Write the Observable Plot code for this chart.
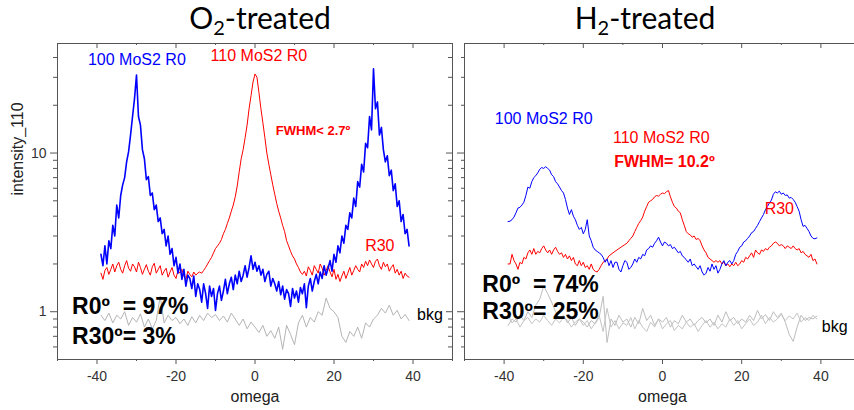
<!DOCTYPE html>
<html><head><meta charset="utf-8">
<script src="https://cdn.jsdelivr.net/npm/d3@7"></script>
<script src="https://cdn.jsdelivr.net/npm/@observablehq/plot@0.6"></script>
<style>
body{margin:0;background:#fff;overflow:hidden}
#wrap{position:relative;width:854px;height:410px;overflow:hidden;background:#fff}
.panel{position:absolute;top:0}
.title{position:absolute;top:0;font-family:Lato,"Open Sans",sans-serif;font-size:30px;line-height:34px;color:#000;transform:translateX(-50%);white-space:nowrap}
.title sub{font-size:20px;line-height:0;vertical-align:-6px}
</style></head><body>
<div id="wrap">
  <div id="p1" class="panel" style="left:0;width:460px"></div>
  <div id="p2" class="panel" style="left:452px;width:410px"></div>
  <div class="title" style="left:260px">O<sub>2</sub>-treated</div>
  <div class="title" style="left:645px">H<sub>2</sub>-treated</div>
</div>
<script>
// ---- sampling grids (omega, degrees)
const omegaFine = d3.range(-39, 39.01, 0.5);   // 157 samples
const omegaCoarse = d3.range(-39, 39.01, 1);   // 79 samples

// ---- O2-treated
const o2Blue = [
 2.3,1.95,2.6,2.0,2.8,2.5,3.5,3.0,4.7,3.9,
 5.4,6.3,7.0,8.8,10.2,13,17,22,31,17,
 15,10.5,9.2,6.8,7.1,5.4,5.6,4.4,4.7,3.7,
 3.9,3.1,3.3,2.6,3.0,2.3,2.5,1.95,2.2,1.75,
 2.0,1.6,1.85,1.45,1.7,1.62,1.4,1.68,1.25,1.5,
 1.38,1.15,1.5,1.3,1.05,1.45,1.25,1.4,1.02,1.3,
 1.45,1.18,1.35,1.6,1.3,1.5,1.65,1.38,1.7,1.5,
 1.8,1.55,1.7,1.95,1.65,1.9,2.25,1.85,2.05,1.8,
 1.95,1.7,1.85,1.55,1.72,1.8,1.45,1.62,1.5,1.35,
 1.55,1.28,1.45,1.2,1.38,1.3,1.08,1.4,1.22,1.35,
 1.15,1.42,1.3,1.5,1.06,1.45,1.62,1.35,1.55,1.72,
 1.5,1.78,1.62,1.95,1.7,1.88,2.1,1.8,2.3,2.05,
 2.6,2.35,3.0,2.7,3.5,3.3,4.2,3.9,5.2,4.6,
 6.6,6.1,8.5,7.6,11.5,10.8,17,14,34,19,
 21,13,14.5,10.5,8.8,9.6,7.2,7.8,5.8,6.4,
 4.6,5.0,3.7,4.1,3.1,3.3,2.6
];
const o2Red = [
 1.75,1.6,1.82,1.9,1.72,1.85,2.0,1.78,1.95,2.05,
 1.85,1.75,1.95,2.1,1.88,1.8,2.0,1.92,1.78,2.05,
 1.9,1.72,1.85,1.98,1.8,1.7,1.92,2.02,1.75,1.85,
 1.95,1.7,1.8,1.88,1.65,1.78,1.9,1.7,1.62,1.82,
 1.75,1.85,1.68,1.6,1.8,1.72,1.66,1.78,1.7,1.75,
 1.78,1.75,1.82,1.9,2.0,2.1,2.2,2.35,2.5,2.6,
 2.7,2.85,3.1,3.3,3.6,3.9,4.3,4.7,5.3,6.2,
 7.6,9.2,10.5,12.5,15,19,23,28,31.5,30,
 24,19,15.5,12.5,10,8.5,7.3,6.3,5.5,4.8,
 4.3,3.9,3.5,3.2,2.8,2.6,2.4,2.25,2.15,2.0,
 1.9,1.78,1.72,1.8,1.68,1.92,1.82,1.7,1.95,1.85,
 1.75,2.0,1.88,1.7,1.82,1.95,1.78,1.66,1.85,1.6,
 1.72,1.55,1.68,1.8,1.62,1.75,1.9,1.7,1.82,1.95,
 1.85,1.78,2.0,1.9,2.08,1.95,2.12,2.0,1.9,2.08,
 2.15,1.95,1.85,2.05,1.92,2.0,1.8,1.9,1.98,1.75,
 1.85,1.7,1.8,1.62,1.75,1.68,1.65
];
const o2Bkg = [
 0.95,0.88,0.98,0.85,0.95,0.9,1.0,0.82,0.92,0.86,
 0.97,0.8,0.9,0.78,0.88,1.25,0.85,0.95,0.88,0.92,
 0.84,0.9,0.82,0.93,0.85,0.95,0.88,0.98,0.92,0.96,
 0.88,0.94,0.86,0.98,0.9,0.82,0.9,0.78,0.86,0.8,
 0.74,0.82,0.7,0.76,0.68,0.8,0.58,0.82,0.72,0.62,
 0.85,0.95,0.8,0.92,0.86,1.0,0.95,1.22,1.05,1.0,
 0.92,0.7,0.64,0.75,0.7,0.8,0.68,0.85,0.8,0.9,
 0.95,1.05,0.98,1.1,0.95,1.02,0.9,0.96,0.88
];

// ---- H2-treated
const h2Blue = [
 3.7,3.72,3.8,3.95,4.2,4.5,4.55,4.7,4.9,5.4,
 6.1,6.0,6.6,7.0,7.2,7.5,7.9,8.1,8.0,8.2,
 8.0,7.8,7.3,7.1,6.6,6.4,6.1,5.8,5.6,5.1,
 4.5,4.1,4.4,4.0,3.8,3.5,3.3,3.4,3.1,3.3,
 3.8,3.0,2.8,2.55,2.45,2.4,2.35,2.3,2.2,2.05,
 2.15,1.95,2.1,1.9,2.05,2.05,1.85,1.78,1.95,2.1,
 2.05,1.85,1.9,2.0,2.15,2.05,2.2,2.15,2.3,2.25,
 2.45,2.5,2.6,2.55,2.7,2.8,2.95,2.75,2.6,2.75,
 2.7,2.6,2.65,2.5,2.55,2.45,2.35,2.4,2.25,2.2,
 2.12,2.05,2.15,1.95,2.0,1.92,1.85,1.95,1.78,1.7,
 1.75,1.9,1.8,2.0,1.85,1.95,1.75,1.85,2.0,2.1,
 1.95,2.05,2.1,2.0,2.1,2.3,2.4,2.55,2.6,2.75,
 2.8,2.9,3.0,3.15,3.2,3.35,3.5,3.7,3.9,4.1,
 4.4,4.6,4.85,5.05,5.5,5.7,5.6,5.75,5.5,5.6,
 5.4,5.45,5.2,5.25,5.1,4.9,4.6,4.3,3.8,3.45,
 3.5,3.35,3.2,3.0,2.9,2.88,2.92
];
const h2Red = [
 2.0,2.0,2.3,2.1,2.0,1.85,2.05,2.0,2.2,2.15,
 2.35,2.45,2.3,2.5,2.3,2.4,2.35,2.5,2.6,2.45,
 2.35,2.45,2.3,2.45,2.55,2.4,2.3,2.35,2.2,2.3,
 2.15,2.25,2.1,2.2,2.0,1.95,2.1,1.95,2.05,1.9,
 1.95,1.85,2.0,1.85,1.8,1.78,1.85,1.95,2.05,2.1,
 2.15,2.25,2.3,2.35,2.4,2.45,2.5,2.55,2.6,2.65,
 2.7,2.8,2.9,3.0,3.2,3.4,3.6,3.75,3.95,4.3,
 4.6,4.9,5.0,5.1,5.3,5.4,5.35,5.5,5.6,5.55,
 5.7,5.8,5.3,4.9,4.6,4.5,4.3,4.2,3.8,3.5,
 3.2,3.1,3.05,2.95,3.0,2.85,2.9,2.8,2.6,2.45,
 2.35,2.2,2.15,2.1,2.05,2.1,2.05,2.1,2.0,2.05,
 1.95,2.0,1.92,2.0,1.95,2.05,1.95,2.0,2.1,2.05,
 2.2,2.15,2.25,2.35,2.2,2.45,2.35,2.3,2.45,2.4,
 2.5,2.45,2.55,2.6,2.7,2.75,2.7,2.6,2.65,2.6,
 2.5,2.6,2.55,2.5,2.6,2.5,2.45,2.5,2.35,2.4,
 2.3,2.25,2.2,2.3,2.1,2.15,2.0
];
const h2BkgA = [
 0.82,0.9,0.86,0.95,0.88,1.0,0.92,1.1,1.2,1.45,
 1.3,1.15,1.0,0.9,0.95,0.85,0.92,0.82,0.9,0.86,
 0.8,0.88,0.84,0.92,1.25,0.64,0.9,0.82,0.95,0.86,
 0.9,0.8,0.92,0.84,1.05,0.88,0.95,0.82,0.9,0.86,
 0.92,0.8,0.88,0.84,0.95,0.86,0.9,0.82,0.88,0.92,
 0.85,0.9,0.82,0.95,0.86,1.0,0.88,0.92,0.84,0.9,
 0.86,0.95,0.88,1.02,0.9,0.96,0.88,1.0,0.92,0.98,
 0.86,0.72,0.65,0.8,0.95,0.88,0.92,0.9,0.94
];
const h2BkgB = [
 0.95,0.85,0.9,0.8,0.88,0.92,0.84,0.9,0.86,0.95,
 0.88,0.82,0.9,0.85,0.92,0.88,0.8,0.86,0.9,0.82,
 0.88,0.78,0.85,0.95,0.75,1.05,0.8,0.88,0.78,0.85,
 0.82,0.92,0.78,0.88,0.8,0.75,0.86,0.8,0.9,0.78,
 0.84,0.88,0.76,0.82,0.78,0.86,0.8,0.84,0.75,0.82,
 0.88,0.8,0.86,0.78,0.84,0.8,0.9,0.82,0.88,0.78,
 0.84,0.9,0.82,0.86,0.95,0.84,0.92,0.86,0.9,0.96,
 0.88,0.94,0.9,0.98,0.86,0.92,0.88,0.95,0.9
];

// ---- ticks
const xMajor = [-40, -20, 0, 20, 40];
const xMinor = [-50, -30, -10, 10, 30, 50];
const yMajor = [1, 10];
const yMinor = [0.6, 0.7, 0.8, 0.9, 2, 3, 4, 5, 6, 7, 8, 9, 20, 30, 40];

// ---- annotations (data coordinates)
const o2Notes = [
  {text: "100 MoS2 R0", x: -29.9, y: 38.5, color: "#0000ff", size: 16, weight: "normal", anchor: "middle"},
  {text: "110 MoS2 R0", x: 1, y: 41, color: "#ff0000", size: 16, weight: "normal", anchor: "middle"},
  {text: "FWHM< 2.7º", x: 14.7, y: 13.9, color: "#ff0000", size: 13, weight: "bold", anchor: "middle"},
  {text: "R30", x: 31.6, y: 2.6, color: "#ff0000", size: 16, weight: "normal", anchor: "middle"},
  {text: "bkg", x: 44.3, y: 0.957, color: "#000", size: 16, weight: "normal", anchor: "middle"},
  {text: "R0º  = 97%", x: -46.3, y: 1.075, color: "#000", size: 23, weight: "bold", anchor: "start"},
  {text: "R30º= 3%", x: -46.3, y: 0.70, color: "#000", size: 23, weight: "bold", anchor: "start"}
];
const h2Notes = [
  {text: "100 MoS2 R0", x: -30, y: 16.5, color: "#0000ff", size: 16, weight: "normal", anchor: "middle"},
  {text: "110 MoS2 R0", x: -0.3, y: 12.4, color: "#ff0000", size: 16, weight: "normal", anchor: "middle"},
  {text: "FWHM= 10.2º", x: 0.5, y: 8.8, color: "#ff0000", size: 16, weight: "bold", anchor: "middle"},
  {text: "R30", x: 29.5, y: 4.44, color: "#ff0000", size: 16, weight: "normal", anchor: "middle"},
  {text: "bkg", x: 43.5, y: 0.80, color: "#000", size: 16, weight: "normal", anchor: "middle"},
  {text: "R0º  = 74%", x: -45.5, y: 1.48, color: "#000", size: 23, weight: "bold", anchor: "start"},
  {text: "R30º= 25%", x: -45.5, y: 1.0, color: "#000", size: 23, weight: "bold", anchor: "start"}
];

const frameStroke = "#555";
const font = "'Liberation Sans', Arial, sans-serif";

function noteMarks(notes) {
  return notes.map(n => Plot.text([n], {
    x: "x", y: "y", text: "text", fill: n.color, fontSize: n.size,
    fontWeight: n.weight, textAnchor: n.anchor, fontFamily: font
  }));
}
function seriesLine(xs, ys, color, width) {
  return Plot.line(ys, {x: (d, i) => xs[i], y: d => d, stroke: color, strokeWidth: width, curve: "linear"});
}

function makePanel({width, marginLeft, marginRight, labels, series, notes, yLabel}) {
  const H = 410 - 43 - 51;
  const W = width - marginLeft - marginRight;
  return Plot.plot({
    width, height: 410,
    marginLeft, marginRight, marginTop: 43, marginBottom: 51,
    style: {background: "transparent", maxWidth: "none", overflow: "visible", fontFamily: font, fontSize: "12px"},
    x: {domain: [-50, 50]},
    y: {type: "log", domain: [0.5, 49]},
    marks: [
      ...series,
      Plot.frame({stroke: frameStroke}),
      Plot.axisX(xMajor, {tickSize: 5, tickPadding: 7, tickFormat: d => String(d), stroke: frameStroke, fill: "#333", fontSize: 14, label: null}),
      Plot.axisX(xMinor, {tickSize: 2, tickFormat: () => "", stroke: frameStroke, label: null}),
      Plot.tickX(xMajor, {x: d => d, insetBottom: H - 5, stroke: frameStroke}),
      Plot.tickX(xMinor, {x: d => d, insetBottom: H - 2, stroke: frameStroke}),
      Plot.axisY(yMajor, {tickSize: 7, tickPadding: 4, tickFormat: labels ? (d => String(d)) : (() => ""), stroke: frameStroke, fill: "#333", fontSize: 14, label: null}),
      Plot.axisY(yMinor, {tickSize: labels ? 4 : 3, tickFormat: () => "", stroke: frameStroke, label: null}),
      Plot.tickY(yMajor, {y: d => d, insetLeft: W - 6, stroke: frameStroke}),
      Plot.tickY(yMinor, {y: d => d, insetLeft: W - 4, stroke: frameStroke}),
      ...noteMarks(notes),
      Plot.text(["omega"], {frameAnchor: "bottom", dy: 42, fontSize: 16, fill: "#222", fontFamily: font}),
      yLabel ? Plot.text([yLabel], {frameAnchor: "left", dx: -40, dy: -6, rotate: -90, fontSize: 16, fill: "#222", fontFamily: font}) : null
    ]
  });
}

document.getElementById("p1").append(makePanel({
  width: 460, marginLeft: 57, marginRight: 8, labels: true, notes: o2Notes, yLabel: "intensity_110",
  series: [
    seriesLine(omegaCoarse, o2Bkg, "#b4b4b4", 1),
    seriesLine(omegaFine, o2Red, "#ff0000", 1),
    seriesLine(omegaFine, o2Blue, "#0000ff", 1.6)
  ]
}));
document.getElementById("p2").append(makePanel({
  width: 410, marginLeft: 12, marginRight: 2, labels: false, notes: h2Notes, yLabel: null,
  series: [
    seriesLine(omegaCoarse, h2BkgA, "#bdbdbd", 1),
    seriesLine(omegaCoarse, h2BkgB, "#c4c4c4", 1),
    seriesLine(omegaFine, h2Red, "#ff0000", 1),
    seriesLine(omegaFine, h2Blue, "#0000ff", 1)
  ]
}));
</script>
</body></html>
